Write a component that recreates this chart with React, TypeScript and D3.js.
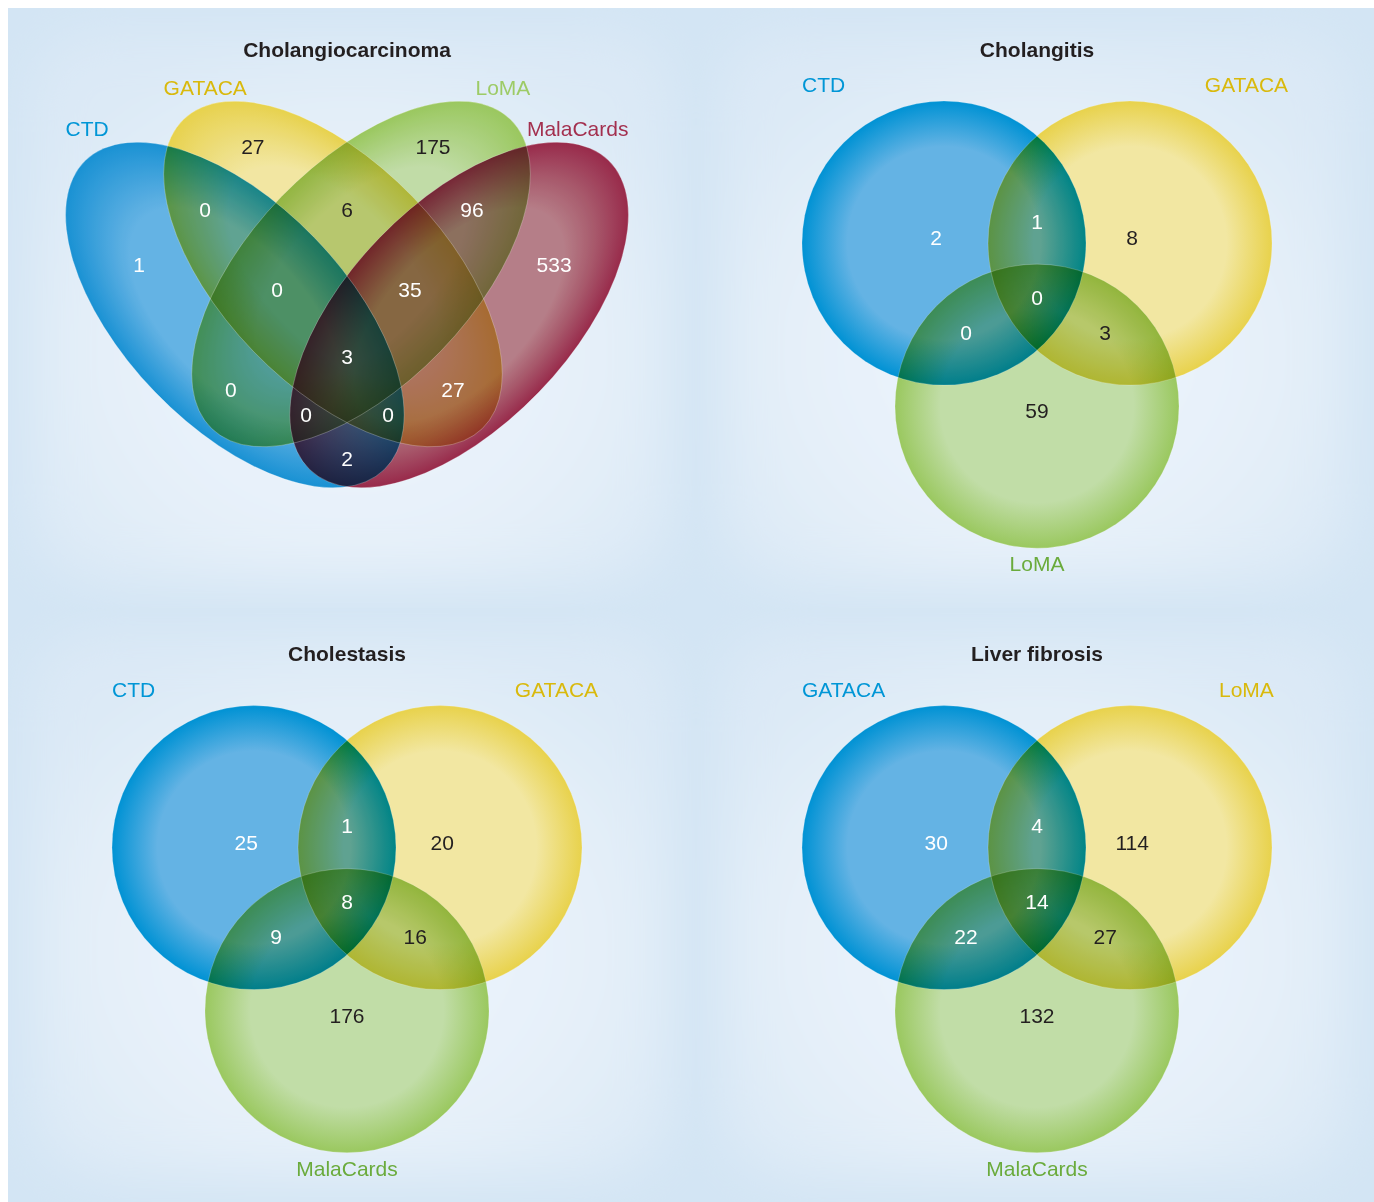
import React from 'react';
import * as d3 from 'd3';

const PAGE_W = 1374;
const PAGE_H = 1202;

// ---------- data ----------
const panelTitles = ['Cholangiocarcinoma', 'Cholangitis', 'Cholestasis', 'Liver fibrosis'];

const cholangiocarcinomaSets = ['CTD', 'GATACA', 'LoMA', 'MalaCards'];
const cholangitisSets = ['CTD', 'GATACA', 'LoMA'];
const cholestasisSets = ['CTD', 'GATACA', 'MalaCards'];
const liverFibrosisSets = ['GATACA', 'LoMA', 'MalaCards'];

// region keys: letters = membership of set index (A = first set ...)
const quadRegions = ['A', 'B', 'C', 'D', 'AB', 'AC', 'AD', 'BC', 'BD', 'CD', 'ABC', 'ABD', 'ACD', 'BCD', 'ABCD'];
const cholangiocarcinomaCounts = [1, 27, 175, 533, 0, 0, 2, 6, 27, 96, 0, 0, 0, 35, 3];

const triRegions = ['A', 'B', 'C', 'AB', 'AC', 'BC', 'ABC'];
const cholangitisCounts = [2, 8, 59, 1, 0, 3, 0];
const cholestasisCounts = [25, 20, 176, 1, 9, 16, 8];
const liverFibrosisCounts = [30, 114, 132, 4, 22, 27, 14];

// ---------- styles ----------
const FONT = '"Liberation Sans", Arial, Helvetica, sans-serif';
const FILL_BLUE = { light: '#64b3e4', edge: '#0092d4' };
const FILL_YELLOW = { light: '#f2e7a2', edge: '#e8d24c' };
const FILL_GREEN = { light: '#c1dda7', edge: '#9ac85f' };
const FILL_RED = { light: '#b67e88', edge: '#992a4a' };

const quadFills = [FILL_BLUE, FILL_YELLOW, FILL_GREEN, FILL_RED];
const triFills = [FILL_BLUE, FILL_YELLOW, FILL_GREEN];

const LBL_BLUE = '#0096d6';
const LBL_GOLD = '#d9b90c';
const LBL_LIGHTGREEN = '#9dcb66';
const LBL_GREEN = '#6aab3c';
const LBL_RED = '#a3304f';

// tone curve that softens the darkest multi-overlaps of the four-set diagram
const LIFT = [0.1, 0.35, 0.57, 0.785, 1];

// ---------- layout geometry (normalised units) ----------
const QUAD_ELLIPSES = [
  { cx: -0.399, cy: 0, a: 0.765, b: 0.395, rot: 46 },
  { cx: -0.05, cy: -0.146, a: 0.765, b: 0.395, rot: 46 },
  { cx: 0.05, cy: -0.146, a: 0.765, b: 0.395, rot: -46 },
  { cx: 0.399, cy: 0, a: 0.765, b: 0.395, rot: -46 },
];
const QUAD_ANCHORS: Record<string, [number, number]> = {
  A: [-0.74, -0.178],
  B: [-0.335, -0.598],
  C: [0.306, -0.598],
  D: [0.737, -0.178],
  AB: [-0.505, -0.374],
  BC: [0, -0.374],
  CD: [0.445, -0.374],
  ABC: [-0.249, -0.089],
  BCD: [0.224, -0.089],
  ABCD: [0, 0.149],
  AC: [-0.413, 0.267],
  BD: [0.377, 0.267],
  ACD: [-0.146, 0.356],
  ABD: [0.146, 0.356],
  AD: [0, 0.512],
};

const TRI_CIRCLES = [
  { cx: -0.655, cy: -0.383 },
  { cx: 0.655, cy: -0.383 },
  { cx: 0, cy: 0.765 },
];
const TRI_ANCHORS: Record<string, [number, number]> = {
  A: [-0.71, -0.42],
  B: [0.67, -0.42],
  C: [0, 0.8],
  AB: [0, -0.535],
  AC: [-0.5, 0.245],
  BC: [0.48, 0.245],
  ABC: [0, 0],
};

function luminance(hex: string) {
  const c = d3.rgb(hex);
  const f = (v: number) => {
    const s = v / 255;
    return s <= 0.04045 ? s / 12.92 : Math.pow((s + 0.055) / 1.055, 2.4);
  };
  return 0.2126 * f(c.r) + 0.7152 * f(c.g) + 0.0722 * f(c.b);
}

function regionColor(key: string, fills: { light: string }[]) {
  let r = 255, g = 255, b = 255;
  for (const ch of key) {
    const c = d3.rgb(fills[ch.charCodeAt(0) - 65].light);
    r = (r * c.r) / 255;
    g = (g * c.g) / 255;
    b = (b * c.b) / 255;
  }
  return d3.rgb(r, g, b).formatHex();
}

function textColor(key: string, fills: { light: string }[]) {
  return luminance(regionColor(key, fills)) > 0.45 ? '#231f20' : '#ffffff';
}

// inverse of the LIFT table so that single-set areas keep their intended colour
const liftScale = d3.scaleLinear().domain(LIFT).range([0, 0.25, 0.5, 0.75, 1]).clamp(true);
function unlift(hex: string) {
  const c = d3.rgb(hex);
  const f = (v: number) => Math.round(liftScale(v / 255) * 255);
  return d3.rgb(f(c.r), f(c.g), f(c.b)).formatHex();
}
const quadFillsPre = quadFills.map((f) => ({ light: unlift(f.light), edge: unlift(f.edge) }));

function Gradient({ id, fill, inner }: { id: string; fill: { light: string; edge: string }; inner: number }) {
  return (
    <radialGradient id={id} cx="50%" cy="50%" r="50%">
      <stop offset="0" stopColor={fill.light} />
      <stop offset={inner} stopColor={fill.light} />
      <stop offset="1" stopColor={fill.edge} />
    </radialGradient>
  );
}

function Title({ x, y, text }: { x: number; y: number; text: string }) {
  return (
    <text x={x} y={y} dy="0.35em" textAnchor="middle" fontFamily={FONT} fontWeight="bold" fontSize={21} fill="#231f20">
      {text}
    </text>
  );
}

function QuadVenn({ id, cx, cy, sets, counts, labelColors }: any) {
  const R = 281;
  const xs = d3.scaleLinear().domain([-1, 1]).range([cx - R, cx + R]);
  const ys = d3.scaleLinear().domain([-1, 1]).range([cy - R, cy + R]);
  const ell = QUAD_ELLIPSES.map((e) => {
    const t = (e.rot * Math.PI) / 180;
    const rx = xs(e.a) - xs(0);
    const ry = xs(e.b) - xs(0);
    const hx = Math.sqrt(rx * rx * Math.cos(t) ** 2 + ry * ry * Math.sin(t) ** 2);
    const hy = Math.sqrt(rx * rx * Math.sin(t) ** 2 + ry * ry * Math.cos(t) ** 2);
    return { X: xs(e.cx), Y: ys(e.cy), rx, ry, rot: e.rot, hx, hy };
  });
  const table = LIFT.join(' ');
  return (
    <g>
      <defs>
        {quadFillsPre.map((f, i) => (
          <Gradient key={i} id={`${id}-g${i}`} fill={f} inner={0.62} />
        ))}
        <filter id={`${id}-lift`} x="0" y="0" width="100%" height="100%" colorInterpolationFilters="sRGB">
          <feComponentTransfer>
            <feFuncR type="table" tableValues={table} />
            <feFuncG type="table" tableValues={table} />
            <feFuncB type="table" tableValues={table} />
          </feComponentTransfer>
        </filter>
      </defs>
      <g filter={`url(#${id}-lift)`}>
        <g style={{ isolation: 'isolate' }}>
          {ell.map((e, i) => (
            <ellipse
              key={i}
              cx={0}
              cy={0}
              rx={e.rx}
              ry={e.ry}
              transform={`translate(${e.X},${e.Y}) rotate(${e.rot})`}
              fill={`url(#${id}-g${i})`}
              style={{ mixBlendMode: 'multiply' }}
            />
          ))}
        </g>
      </g>
      {ell.map((e, i) => (
        <ellipse
          key={'o' + i}
          cx={0}
          cy={0}
          rx={e.rx}
          ry={e.ry}
          transform={`translate(${e.X},${e.Y}) rotate(${e.rot})`}
          fill="none"
          stroke="rgba(255,255,255,0.3)"
          strokeWidth={0.8}
        />
      ))}
      {sets.map((s: string, i: number) => {
        const e = ell[i];
        const left = i < 2;
        return (
          <text
            key={s}
            x={left ? e.X - e.hx : e.X + e.hx}
            y={e.Y - e.hy - 14}
            dy="0.35em"
            textAnchor={left ? 'start' : 'end'}
            fontFamily={FONT}
            fontSize={21}
            fill={labelColors[i]}
          >
            {s}
          </text>
        );
      })}
      {quadRegions.map((k, i) => {
        const [ax, ay] = QUAD_ANCHORS[k];
        return (
          <text key={k} x={xs(ax)} y={ys(ay)} dy="0.35em" textAnchor="middle" fontFamily={FONT} fontSize={21} fill={textColor(k, quadFills)}>
            {counts[i]}
          </text>
        );
      })}
    </g>
  );
}

function TriVenn({ id, cx, cy, sets, counts, labelColors }: any) {
  const R = 142;
  const xs = d3.scaleLinear().domain([-1, 1]).range([cx - R, cx + R]);
  const ys = d3.scaleLinear().domain([-1, 1]).range([cy - R, cy + R]);
  const circ = TRI_CIRCLES.map((c) => ({ X: xs(c.cx), Y: ys(c.cy), r: R }));
  return (
    <g>
      <defs>
        {triFills.map((f, i) => (
          <Gradient key={i} id={`${id}-g${i}`} fill={f} inner={0.68} />
        ))}
      </defs>
      <g style={{ isolation: 'isolate' }}>
        {circ.map((c, i) => (
          <circle key={i} cx={c.X} cy={c.Y} r={c.r} fill={`url(#${id}-g${i})`} style={{ mixBlendMode: 'multiply' }} />
        ))}
      </g>
      {circ.map((c, i) => (
        <circle key={'o' + i} cx={c.X} cy={c.Y} r={c.r} fill="none" stroke="rgba(255,255,255,0.25)" strokeWidth={0.8} />
      ))}
      <text x={circ[0].X - R} y={circ[0].Y - R - 16} dy="0.35em" textAnchor="start" fontFamily={FONT} fontSize={21} fill={labelColors[0]}>
        {sets[0]}
      </text>
      <text x={circ[1].X + R * 0.82} y={circ[1].Y - R - 16} dy="0.35em" textAnchor="middle" fontFamily={FONT} fontSize={21} fill={labelColors[1]}>
        {sets[1]}
      </text>
      <text x={circ[2].X} y={circ[2].Y + R + 16} dy="0.35em" textAnchor="middle" fontFamily={FONT} fontSize={21} fill={labelColors[2]}>
        {sets[2]}
      </text>
      {triRegions.map((k, i) => {
        const [ax, ay] = TRI_ANCHORS[k];
        return (
          <text key={k} x={xs(ax)} y={ys(ay)} dy="0.35em" textAnchor="middle" fontFamily={FONT} fontSize={21} fill={textColor(k, triFills)}>
            {counts[i]}
          </text>
        );
      })}
    </g>
  );
}

const PANELS = [
  { x0: 8, y0: 8, x1: 696, y1: 608 },
  { x0: 696, y0: 8, x1: 1374, y1: 608 },
  { x0: 8, y0: 608, x1: 696, y1: 1202 },
  { x0: 696, y0: 608, x1: 1374, y1: 1202 },
];

export default function App() {
  return (
    <svg
      width={PAGE_W}
      height={PAGE_H}
      viewBox={`0 0 ${PAGE_W} ${PAGE_H}`}
      style={{ position: 'absolute', left: 0, top: 0, display: 'block' }}
    >
      <defs>
        <filter id="soft" x="-25%" y="-25%" width="150%" height="150%">
          <feGaussianBlur stdDeviation="26" />
        </filter>
        <radialGradient id="panelGlow" cx="50%" cy="58%" r="60%">
          <stop offset="0" stopColor="#eef6fd" />
          <stop offset="0.6" stopColor="#e6f0f9" />
          <stop offset="1" stopColor="#dbe9f6" />
        </radialGradient>
      </defs>
      <rect x={0} y={0} width={PAGE_W} height={PAGE_H} fill="#ffffff" />
      <rect x={8} y={8} width={PAGE_W - 8} height={PAGE_H - 8} fill="#d3e5f4" />
      {PANELS.map((p, i) => (
        <g key={i}>
          <clipPath id={`pc${i}`}>
            <rect x={p.x0} y={p.y0} width={p.x1 - p.x0} height={p.y1 - p.y0} />
          </clipPath>
          <g clipPath={`url(#pc${i})`}>
            <rect
              x={p.x0 + 22}
              y={p.y0 + 22}
              width={p.x1 - p.x0 - 44}
              height={p.y1 - p.y0 - 44}
              rx={70}
              fill="url(#panelGlow)"
              filter="url(#soft)"
            />
          </g>
        </g>
      ))}

      <Title x={347} y={50} text={panelTitles[0]} />
      <Title x={1037} y={50} text={panelTitles[1]} />
      <Title x={347} y={654} text={panelTitles[2]} />
      <Title x={1037} y={654} text={panelTitles[3]} />

      <QuadVenn
        id="q1"
        cx={347}
        cy={315}
        sets={cholangiocarcinomaSets}
        counts={cholangiocarcinomaCounts}
        labelColors={[LBL_BLUE, LBL_GOLD, LBL_LIGHTGREEN, LBL_RED]}
      />
      <TriVenn
        id="t1"
        cx={1037}
        cy={297.5}
        sets={cholangitisSets}
        counts={cholangitisCounts}
        labelColors={[LBL_BLUE, LBL_GOLD, LBL_GREEN]}
      />
      <TriVenn
        id="t2"
        cx={347}
        cy={902}
        sets={cholestasisSets}
        counts={cholestasisCounts}
        labelColors={[LBL_BLUE, LBL_GOLD, LBL_GREEN]}
      />
      <TriVenn
        id="t3"
        cx={1037}
        cy={902}
        sets={liverFibrosisSets}
        counts={liverFibrosisCounts}
        labelColors={[LBL_BLUE, LBL_GOLD, LBL_GREEN]}
      />
    </svg>
  );
}
